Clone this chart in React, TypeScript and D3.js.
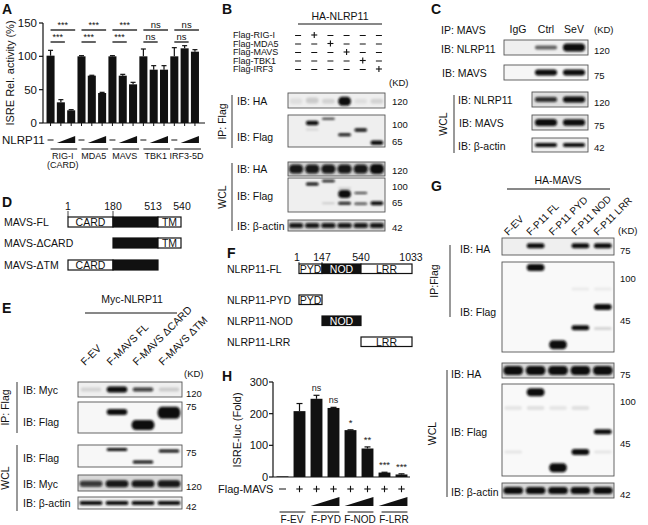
import React from "react";
import * as d3 from "d3";

const FONT = "'Liberation Sans', Arial, Helvetica, sans-serif";
const BETA = "IB: \u03b2-actin";

// ---------- Panel A ----------
const aGroups = ["RIG-I", "MDA5", "MAVS", "TBK1", "IRF3-5D"];
const aValues = [101, 31, 19, 100, 71, 45, 100, 71, 58, 100, 80, 80, 100, 112, 107];
const aErrors = [8, 4, 1, 1, 0.6, 1, 1, 2, 3, 11, 6, 6, 13, 4, 3];
const aSigTop = ["***", "***", "***", "ns", "ns"];
const aSigBottom = ["***", "***", "***", "ns", "ns"];
const aTicks = [0, 50, 100, 150];

// ---------- Panel H ----------
const hValues = [2, 208, 247, 218, 148, 90, 14, 8];
const hErrors = [0, 24, 11, 2, 1, 5, 1, 2];
const hSig = ["", "", "ns", "ns", "*", "**", "***", "***"];
const hMavs = ["-", "+", "+", "+", "+", "+", "+", "+"];
const hGroups = ["F-EV", "F-PYD", "F-NOD", "F-LRR"];
const hTicks = [0, 100, 200, 300];

// ---------- Panel B ----------
const bRows = ["Flag-RIG-I", "Flag-MDA5", "Flag-MAVS", "Flag-TBK1", "Flag-IRF3"];
const bMW = [["120", 102], ["100", 125], ["65", 142], ["120", 171], ["100", 187], ["65", 203], ["42", 228]];
// band: [lane, yFraction, intensity, thickness, widthFraction]
const bIpHA = [[0, 0.55, 0.07, 6], [1, 0.5, 0.15, 6], [2, 0.55, 0.12, 5], [3, 0.55, 1, 9], [4, 0.55, 0.07, 5], [5, 0.55, 0.12, 5]];
const bIpFlag = [[1, 0.25, 1, 4.5], [1, 0.45, 0.12, 2], [2, 0.12, 0.8, 2], [3, 0.62, 0.95, 3], [4, 0.47, 0.95, 3.5], [5, 0.87, 1, 4.5]];
const bWclHA = [[0, 0.5, 0.95, 9, 1], [1, 0.5, 0.95, 9, 1], [2, 0.5, 0.95, 9, 1], [3, 0.5, 0.95, 9, 1], [4, 0.5, 0.95, 9, 1], [5, 0.5, 1, 10, 1]];
const bWclFlag = [[1, 0.18, 1, 3], [2, 0.09, 0.95, 2.5], [3, 0.47, 1, 8], [3, 0.74, 0.9, 3], [3, 0.3, 0.15, 2], [4, 0.44, 0.8, 2], [4, 0.76, 0.7, 2.5], [5, 0.74, 1, 4], [2, 0.74, 0.15, 2]];
const bActin = [[0, 0.5, 0.95, 5, 1], [1, 0.5, 0.95, 5, 1], [2, 0.5, 0.95, 5, 1], [3, 0.5, 0.95, 5, 1], [4, 0.5, 0.95, 5, 1], [5, 0.5, 0.95, 5, 1]];

// ---------- Panel C ----------
const cLanes = ["IgG", "Ctrl", "SeV"];
const cMW = [["120", 50], ["75", 75], ["120", 102], ["75", 125], ["42", 147]];
const cIpNlrp = [[1, 0.5, 0.6, 4], [2, 0.5, 1, 8]];
const cIpMavs = [[1, 0.5, 1, 6], [2, 0.5, 1, 6]];
const cWclNlrp = [[0, 0.5, 0.85, 5], [1, 0.5, 1, 6]];
const cWclMavs = [[0, 0.5, 1, 7], [1, 0.5, 1, 6.5]];
const cActin = [[0, 0.5, 1, 4], [1, 0.5, 1, 4]];

// ---------- Panel D / F ----------
const dPositions = [1, 180, 513, 540];
const dConstructs = [
  { name: "MAVS-FL", from: 1, to: 540 },
  { name: "MAVS-\u0394CARD", from: 180, to: 540 },
  { name: "MAVS-\u0394TM", from: 1, to: 513 },
];
const dDomains = [
  { name: "CARD", from: 1, to: 180, dark: false },
  { name: "", from: 180, to: 513, dark: true },
  { name: "TM", from: 513, to: 540, dark: false },
];
const fPositions = [1, 147, 540, 1033];
const fConstructs = [
  { name: "NLRP11-FL", from: 1, to: 1033 },
  { name: "NLRP11-PYD", from: 1, to: 147 },
  { name: "NLRP11-NOD", from: 147, to: 540 },
  { name: "NLRP11-LRR", from: 540, to: 1033 },
];
const fDomains = [
  { name: "PYD", from: 1, to: 147, dark: false },
  { name: "NOD", from: 147, to: 540, dark: true },
  { name: "LRR", from: 540, to: 1033, dark: false },
];

// ---------- Panel E ----------
const eLanes = ["F-EV", "F-MAVS FL", "F-MAVS \u0394CARD", "F-MAVS \u0394TM"];
const eMW = [["120", 393], ["75", 406], ["75", 452], ["120", 486], ["42", 506]];
const eIpMyc = [[0, 0.5, 0.12, 4], [1, 0.5, 1, 6], [2, 0.5, 0.8, 4], [3, 0.5, 0.15, 4]];
const eIpFlag = [[1, 0.32, 1, 6], [2, 0.74, 1, 10, 1], [3, 0.35, 1, 12, 1]];
const eWclFlag = [[1, 0.2, 1, 3], [2, 0.77, 1, 3], [3, 0.27, 1, 3]];
const eWclMyc = [[0, 0.55, 0.8, 6, 1], [1, 0.55, 0.95, 7, 1], [2, 0.55, 0.95, 7, 1], [3, 0.55, 0.95, 7, 1]];
const eActin = [[0, 0.5, 1, 4, 1], [1, 0.5, 1, 4, 1], [2, 0.5, 1, 4, 1], [3, 0.5, 1, 4, 1]];

// ---------- Panel G ----------
const gLanes = ["F-EV", "F-P11 FL", "F-P11 PYD", "F-P11 NOD", "F-P11 LRR"];
const gMW = [["75", 250], ["100", 278], ["45", 320], ["75", 374], ["100", 401], ["45", 443], ["42", 494]];
const gIpHA = [[1, 0.45, 1, 5], [3, 0.45, 1, 5], [4, 0.45, 1, 5]];
const gIpFlag = [[1, 0.06, 1, 7], [2, 0.92, 1, 9], [3, 0.73, 1, 5], [4, 0.5, 1, 6], [4, 0.74, 0.15, 3], [3, 0.3, 0.06, 3], [4, 0.3, 0.06, 3]];
const gWclHA = [[0, 0.5, 1, 9, 1], [1, 0.5, 1, 9, 1], [2, 0.5, 1, 9, 1], [3, 0.5, 1, 9, 1], [4, 0.5, 1, 9, 1]];
const gWclFlag = [[1, 0.09, 1, 8], [2, 0.91, 1, 9], [3, 0.74, 1, 6], [4, 0.52, 1, 5], [0, 0.26, 0.08, 4], [1, 0.26, 0.1, 4], [2, 0.26, 0.08, 4], [3, 0.26, 0.1, 4], [0, 0.74, 0.08, 3], [4, 0.74, 0.08, 3]];
const gActin = [[0, 0.5, 1, 7, 1], [1, 0.5, 1, 7, 1], [2, 0.5, 1, 7, 1], [3, 0.5, 1, 7, 1], [4, 0.5, 1, 7, 1]];

// ------------------------------------------------------------------
function T({ x, y, children, size = 10.5, anchor = "start", weight = "normal", rotate = 0, fill = "#111" }: any) {
  return (
    <text
      x={x}
      y={y}
      fontSize={size}
      fontFamily={FONT}
      textAnchor={anchor}
      fontWeight={weight}
      fill={fill}
      transform={rotate ? `rotate(${rotate},${x},${y})` : undefined}
    >
      {children}
    </text>
  );
}

function laneScale(x: number, w: number, n: number) {
  return d3.scaleBand<number>().domain(d3.range(n)).range([x, x + w]).paddingInner(0.12).paddingOuter(0.06);
}

function Blot({ id, x, y, w, h, lanes, bands, bg = "#efefef" }: any) {
  const xs = laneScale(x, w, lanes);
  return (
    <g>
      <clipPath id={id}>
        <rect x={x} y={y} width={w} height={h} />
      </clipPath>
      <rect x={x} y={y} width={w} height={h} fill={bg} />
      <g clipPath={`url(#${id})`}>
        <g filter="url(#blur)">
          {bands.map((b: number[], i: number) => {
            const [lane, fy, s, t, wf = 0.9] = b;
            const bw = xs.bandwidth() * wf;
            const cx = (xs(lane) as number) + xs.bandwidth() / 2;
            return (
              <rect key={i} x={cx - bw / 2} y={y + fy * h - t / 2} width={bw} height={t} rx={Math.min(t / 2, 4)} ry={t / 2} fill="#0a0a0a" fillOpacity={s} />
            );
          })}
        </g>
      </g>
      <rect x={x} y={y} width={w} height={h} fill="none" stroke="#555" strokeWidth={0.9} />
    </g>
  );
}

function Bracket({ x, y1, y2, label, lx }: any) {
  const cy = (y1 + y2) / 2;
  return (
    <g>
      <line x1={x} x2={x} y1={y1} y2={y2} stroke="#555" strokeWidth={1.2} />
      <T x={lx} y={cy} anchor="middle" rotate={-90} size={10.5}>
        {label}
      </T>
    </g>
  );
}

function Dash({ cx, cy, w = 6 }: any) {
  return <line x1={cx - w / 2} x2={cx + w / 2} y1={cy} y2={cy} stroke="#111" strokeWidth={1} />;
}
function Plus({ cx, cy, s = 3 }: any) {
  return (
    <g stroke="#111" strokeWidth={1.1}>
      <line x1={cx - s} x2={cx + s} y1={cy} y2={cy} />
      <line x1={cx} x2={cx} y1={cy - s} y2={cy + s} />
    </g>
  );
}

// ---------------- Panel A ----------------
function PanelA() {
  const y = d3.scaleLinear().domain([0, 150]).range([123, 23]);
  const x = d3.scaleBand<number>().domain(d3.range(aValues.length)).range([45.5, 200]).paddingInner(0.22).paddingOuter(0.1);
  const bw = x.bandwidth();
  const cx = (i: number) => (x(i) as number) + bw / 2;
  return (
    <g>
      <T x={2} y={14} size={14} weight="bold">A</T>
      <line x1={43} x2={43} y1={y(150)} y2={y(0)} stroke="#111" strokeWidth={1.2} />
      {aTicks.map((t) => (
        <g key={t}>
          <line x1={39} x2={43} y1={y(t)} y2={y(t)} stroke="#111" strokeWidth={1.2} />
          <T x={37} y={y(t) + 4} anchor="end" size={11.5}>{t}</T>
        </g>
      ))}
      <T x={14} y={73} anchor="middle" rotate={-90} size={11}>ISRE Rel. activity (%)</T>
      <line x1={43} x2={205} y1={y(0)} y2={y(0)} stroke="#111" strokeWidth={1.2} />
      {aValues.map((v, i) => (
        <g key={i}>
          <rect x={x(i)} y={y(v)} width={bw} height={y(0) - y(v)} fill="#111" />
          <line x1={cx(i)} x2={cx(i)} y1={y(v)} y2={y(v + aErrors[i])} stroke="#111" strokeWidth={1.2} />
          <line x1={cx(i) - 2.5} x2={cx(i) + 2.5} y1={y(v + aErrors[i])} y2={y(v + aErrors[i])} stroke="#111" strokeWidth={1.2} />
          <line x1={cx(i)} x2={cx(i)} y1={y(0)} y2={y(0) + 3} stroke="#111" strokeWidth={1} />
        </g>
      ))}
      {aGroups.map((g, k) => {
        const i0 = k * 3;
        const l = cx(i0);
        return (
          <g key={g}>
            <line x1={l} x2={cx(i0 + 2) + 4} y1={30} y2={30} stroke="#111" strokeWidth={1.3} />
            <T x={(l + cx(i0 + 2) + 4) / 2} y={28} anchor="middle" size={aSigTop[k] === "ns" ? 9.5 : 9}>{aSigTop[k]}</T>
            <line x1={l} x2={cx(i0 + 1) + 4} y1={42} y2={42} stroke="#111" strokeWidth={1.3} />
            <T x={(l + cx(i0 + 1) + 4) / 2} y={40} anchor="middle" size={aSigBottom[k] === "ns" ? 9.5 : 9}>{aSigBottom[k]}</T>
            <Dash cx={cx(i0)} cy={140} w={6} />
            <path d={`M${x(i0 + 1)},143 L${(x(i0 + 2) as number) + bw},143 L${(x(i0 + 2) as number) + bw},136 Z`} fill="#111" />
            <line x1={cx(i0)} x2={(x(i0 + 2) as number) + bw + 2} y1={149} y2={149} stroke="#111" strokeWidth={1} />
            <T x={cx(i0 + 1) + 2} y={159} anchor="middle" size={9}>{g}</T>
            {k === 0 && <T x={cx(i0 + 1) + 2} y={168} anchor="middle" size={9}>(CARD)</T>}
          </g>
        );
      })}
      <T x={2} y={144} size={11.5}>NLRP11</T>
    </g>
  );
}

// ---------------- Panel B ----------------
function PanelB() {
  const bx = 288, bw = 97;
  const ls = laneScale(bx, bw, 6);
  const lc = (i: number) => (ls(i) as number) + ls.bandwidth() / 2 + 2;
  const rowY = [35, 43.5, 52, 60.5, 69];
  return (
    <g>
      <T x={222} y={14} size={14} weight="bold">B</T>
      <T x={340} y={20} anchor="middle" size={10.5}>HA-NLRP11</T>
      <line x1={298} x2={382} y1={24} y2={24} stroke="#111" strokeWidth={1} />
      {bRows.map((r, k) => (
        <g key={r}>
          <T x={233} y={rowY[k] + 3} size={9}>{r}</T>
          {d3.range(6).map((j) =>
            j === k + 1 ? <Plus key={j} cx={lc(j)} cy={rowY[k]} /> : <Dash key={j} cx={lc(j)} cy={rowY[k] + 0.5} w={6} />
          )}
        </g>
      ))}
      <T x={389} y={86} size={9.5}>(KD)</T>
      <Blot id="b1" x={bx} y={93} w={bw} h={15} lanes={6} bands={bIpHA} />
      <Blot id="b2" x={bx} y={115} w={bw} h={32} lanes={6} bands={bIpFlag} />
      <Blot id="b3" x={bx} y={162} w={bw} h={14} lanes={6} bands={bWclHA} bg="#cfcfcf" />
      <Blot id="b4" x={bx} y={178} w={bw} h={34} lanes={6} bands={bWclFlag} />
      <Blot id="b5" x={bx} y={220} w={bw} h={11} lanes={6} bands={bActin} bg="#d5d5d5" />
      {bMW.map(([t, yy], i) => (
        <T key={i} x={392} y={(yy as number) + 3} size={9.5}>{t}</T>
      ))}
      <Bracket x={232} y1={95} y2={148} label="IP: Flag" lx={226} />
      <Bracket x={232} y1={163} y2={231} label="WCL" lx={226} />
      <T x={237} y={105} size={10.5}>IB: HA</T>
      <T x={237} y={141} size={10.5}>IB: Flag</T>
      <T x={237} y={173} size={10.5}>IB: HA</T>
      <T x={237} y={200} size={10.5}>IB: Flag</T>
      <T x={237} y={230} size={10.5}>{BETA}</T>
    </g>
  );
}

// ---------------- Panel C ----------------
function PanelC() {
  const ls = laneScale(504, 84, 3);
  const lc = (i: number) => (ls(i) as number) + ls.bandwidth() / 2;
  return (
    <g>
      <T x={431} y={14} size={14} weight="bold">C</T>
      <T x={441} y={34} size={10.5}>IP: MAVS</T>
      {cLanes.map((l, i) => (
        <T key={l} x={lc(i)} y={33} anchor="middle" size={10.5}>{l}</T>
      ))}
      <T x={594} y={33} size={9.5}>(KD)</T>
      <Blot id="c1" x={504} y={40} w={84} h={15} lanes={3} bands={cIpNlrp} />
      <Blot id="c2" x={504} y={65} w={84} h={15} lanes={3} bands={cIpMavs} bg="#f6f6f6" />
      <Blot id="c3" x={532} y={92} w={56} h={15} lanes={2} bands={cWclNlrp} bg="#dedede" />
      <Blot id="c4" x={532} y={115} w={56} h={15} lanes={2} bands={cWclMavs} bg="#e4e4e4" />
      <Blot id="c5" x={532} y={138} w={56} h={14} lanes={2} bands={cActin} />
      {cMW.map(([t, yy], i) => (
        <T key={i} x={594} y={(yy as number) + 3.5} size={9.5}>{t}</T>
      ))}
      <T x={441} y={53} size={10.5}>IB: NLRP11</T>
      <T x={442} y={77} size={10.5}>IB: MAVS</T>
      <Bracket x={454} y1={95} y2={153} label="WCL" lx={447} />
      <T x={458} y={104} size={10.5}>IB: NLRP11</T>
      <T x={459} y={127} size={10.5}>IB: MAVS</T>
      <T x={458} y={150} size={10.5}>{BETA}</T>
    </g>
  );
}

// ---------------- Panel D / F ----------------
function DomainMap({ positions, range, constructs, domains, labelX, rowY, numY, h, shift }: any) {
  const s = d3.scaleLinear().domain(positions).range(range);
  return (
    <g>
      {positions.map((p: number, i: number) => (
        <g key={p}>
          <T x={s(p) + (shift[i] || 0)} y={numY} anchor="middle" size={10.5}>{p}</T>
          {i < 2 && <line x1={s(p)} x2={s(p)} y1={numY + 1} y2={rowY[0]} stroke="#111" strokeWidth={0.8} />}
        </g>
      ))}
      {constructs.map((c: any, k: number) => (
        <g key={c.name}>
          <T x={labelX} y={rowY[k] + h / 2 + 4} size={10.5}>{c.name}</T>
          {domains
            .filter((d: any) => d.from >= c.from && d.to <= c.to)
            .map((d: any) => (
              <g key={d.from}>
                <rect x={s(d.from)} y={rowY[k]} width={s(d.to) - s(d.from)} height={h} fill={d.dark ? "#111" : "#fff"} stroke="#111" strokeWidth={1.2} />
                {d.name && (
                  <T x={(s(d.from) + s(d.to)) / 2} y={rowY[k] + h - 1} anchor="middle" size={10.5} fill={d.dark ? "#fff" : "#111"}>{d.name}</T>
                )}
              </g>
            ))}
        </g>
      ))}
    </g>
  );
}

// ---------------- Panel E ----------------
function PanelE() {
  const ls = laneScale(78, 104, 4);
  const lc = (i: number) => (ls(i) as number) + ls.bandwidth() / 2;
  return (
    <g>
      <T x={2} y={313} size={14} weight="bold">E</T>
      <T x={132} y={303} anchor="middle" size={10.5}>Myc-NLRP11</T>
      <line x1={85} x2={177} y1={313} y2={313} stroke="#111" strokeWidth={1} />
      {eLanes.map((l, i) => (
        <T key={l} x={lc(i) - 6} y={366} rotate={-45} size={10.5}>{l}</T>
      ))}
      <T x={184} y={377} size={9.5}>(KD)</T>
      <Blot id="e1" x={78} y={382} w={104} h={15} lanes={4} bands={eIpMyc} />
      <Blot id="e2" x={78} y={402} w={104} h={31} lanes={4} bands={eIpFlag} bg="#f7f7f7" />
      <Blot id="e3" x={78} y={445} w={104} h={22} lanes={4} bands={eWclFlag} bg="#f7f7f7" />
      <Blot id="e4" x={78} y={475} w={104} h={16} lanes={4} bands={eWclMyc} bg="#d8d8d8" />
      <Blot id="e5" x={78} y={497} w={104} h={12} lanes={4} bands={eActin} />
      {eMW.map(([t, yy], i) => (
        <T key={i} x={186} y={(yy as number) + 3.5} size={9.5}>{t}</T>
      ))}
      <Bracket x={17} y1={382} y2={433} label="IP: Flag" lx={9} />
      <Bracket x={17} y1={445} y2={511} label="WCL" lx={9} />
      <T x={23} y={394} size={10.5}>IB: Myc</T>
      <T x={23} y={426} size={10.5}>IB: Flag</T>
      <T x={23} y={462} size={10.5}>IB: Flag</T>
      <T x={23} y={488} size={10.5}>IB: Myc</T>
      <T x={23} y={507} size={10.5}>{BETA}</T>
    </g>
  );
}

// ---------------- Panel G ----------------
function PanelG() {
  const ls = laneScale(502, 112, 5);
  const lc = (i: number) => (ls(i) as number) + ls.bandwidth() / 2;
  return (
    <g>
      <T x={431} y={191} size={14} weight="bold">G</T>
      <T x={558} y={184} anchor="middle" size={10.5}>HA-MAVS</T>
      <line x1={507} x2={610} y1={189} y2={189} stroke="#111" strokeWidth={1} />
      {gLanes.map((l, i) => (
        <T key={l} x={lc(i) - 5} y={236} rotate={-45} size={10}>{l}</T>
      ))}
      <T x={618} y={234} size={9.5}>(KD)</T>
      <Blot id="g1" x={502} y={238} w={112} h={17} lanes={5} bands={gIpHA} />
      <Blot id="g2" x={502} y={262} w={112} h={90} lanes={5} bands={gIpFlag} bg="#f9f9f9" />
      <Blot id="g3" x={502} y={363} w={112} h={15} lanes={5} bands={gWclHA} bg="#d9d9d9" />
      <Blot id="g4" x={502} y={384} w={112} h={92} lanes={5} bands={gWclFlag} bg="#f9f9f9" />
      <Blot id="g5" x={502} y={483} w={112} h={15} lanes={5} bands={gActin} bg="#d9d9d9" />
      {gMW.map(([t, yy], i) => (
        <T key={i} x={620} y={(yy as number) + 3.5} size={9.5}>{t}</T>
      ))}
      <Bracket x={450} y1={245} y2={317} label="IP:Flag" lx={438} />
      <Bracket x={447} y1={370} y2={497} label="WCL" lx={436} />
      <T x={460} y={253} size={10.5}>IB: HA</T>
      <T x={460} y={316} size={10.5}>IB: Flag</T>
      <T x={451} y={378} size={10.5}>IB: HA</T>
      <T x={451} y={436} size={10.5}>IB: Flag</T>
      <T x={451} y={496} size={10.5}>{BETA}</T>
    </g>
  );
}

// ---------------- Panel H ----------------
function PanelH() {
  const y = d3.scaleLinear().domain([0, 300]).range([477, 382]);
  const x = d3.scaleBand<number>().domain(d3.range(hValues.length)).range([274, 410]).paddingInner(0.3).paddingOuter(0.15);
  const bw = x.bandwidth();
  const cx = (i: number) => (x(i) as number) + bw / 2;
  return (
    <g>
      <T x={222} y={381} size={14} weight="bold">H</T>
      <line x1={273} x2={273} y1={y(300)} y2={y(0)} stroke="#111" strokeWidth={1.2} />
      {hTicks.map((t) => (
        <g key={t}>
          <line x1={269} x2={273} y1={y(t)} y2={y(t)} stroke="#111" strokeWidth={1.2} />
          <T x={268} y={y(t) + 4} anchor="end" size={11}>{t}</T>
        </g>
      ))}
      <T x={241} y={430} anchor="middle" rotate={-90} size={11}>ISRE-luc (Fold)</T>
      <line x1={273} x2={410} y1={y(0)} y2={y(0)} stroke="#111" strokeWidth={1.2} />
      {hValues.map((v, i) => (
        <g key={i}>
          <rect x={x(i)} y={y(v)} width={bw} height={y(0) - y(v)} fill="#111" />
          {hErrors[i] > 0 && (
            <g stroke="#111" strokeWidth={1.2}>
              <line x1={cx(i)} x2={cx(i)} y1={y(v)} y2={y(v + hErrors[i])} />
              <line x1={cx(i) - 3} x2={cx(i) + 3} y1={y(v + hErrors[i])} y2={y(v + hErrors[i])} />
            </g>
          )}
          {hSig[i] && (
            <T x={cx(i)} y={y(v + hErrors[i]) - 4} anchor="middle" size={hSig[i] === "ns" ? 9 : 9.5} fill="#222">{hSig[i]}</T>
          )}
          {hMavs[i] === "+" ? <Plus cx={cx(i)} cy={489} s={3.2} /> : <Dash cx={cx(i)} cy={489} w={7} />}
        </g>
      ))}
      <T x={218} y={493} size={11}>Flag-MAVS</T>
      {hGroups.map((g, k) => {
        const l = x(2 * k) as number;
        const r = (x(2 * k + 1) as number) + bw;
        return (
          <g key={g}>
            {k > 0 && <path d={`M${l},506 L${r},506 L${r},497 Z`} fill="#111" />}
            <line x1={l + 3} x2={r} y1={512} y2={512} stroke="#111" strokeWidth={1} />
            <T x={(l + r) / 2 + 1} y={523} anchor="middle" size={10}>{g}</T>
          </g>
        );
      })}
    </g>
  );
}

export default function App() {
  return (
    <svg width={648} height={525} style={{ position: "absolute", left: 0, top: 0, background: "#fff" }}>
      <defs>
        <filter id="blur" x="-20%" y="-50%" width="140%" height="200%">
          <feGaussianBlur stdDeviation="0.9" />
        </filter>
      </defs>
      <rect width={648} height={525} fill="#fff" />
      <PanelA />
      <PanelB />
      <PanelC />
      <T x={2} y={207} size={14} weight="bold">D</T>
      <DomainMap positions={dPositions} range={[68, 113, 158, 181]} constructs={dConstructs} domains={dDomains} labelX={4} rowY={[217, 238, 260]} numY={210} h={10} shift={[0, 0, -5, 1]} />
      <T x={227} y={258} size={14} weight="bold">F</T>
      <DomainMap positions={fPositions} range={[299, 322, 361, 412]} constructs={fConstructs} domains={fDomains} labelX={227} rowY={[264, 295, 316, 337]} numY={261} h={9.5} shift={[-2, 0, 0, -1]} />
      <PanelE />
      <PanelG />
      <PanelH />
    </svg>
  );
}
